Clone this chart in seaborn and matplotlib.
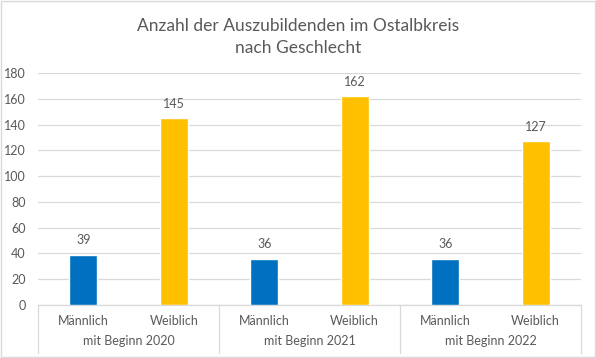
import numpy as np
import seaborn as sns
import matplotlib.pyplot as plt
import pandas as pd

# Daten
jahre = ['mit Beginn 2020', 'mit Beginn 2021', 'mit Beginn 2022']
geschlecht = ['Männlich', 'Weiblich']
maennlich = [39, 36, 36]
weiblich = [145, 162, 127]

zeilen = []
for i, j in enumerate(jahre):
    zeilen.append({'pos': 2 * i, 'Jahr': j, 'Geschlecht': 'Männlich', 'Anzahl': maennlich[i]})
    zeilen.append({'pos': 2 * i + 1, 'Jahr': j, 'Geschlecht': 'Weiblich', 'Anzahl': weiblich[i]})
df = pd.DataFrame(zeilen)

sns.set_style('white')
plt.rcParams['font.family'] = ['Lato', 'DejaVu Sans']
grau = '#595959'

fig = plt.figure(figsize=(5.96, 3.58), dpi=100)
ax = fig.add_axes([0.0638, 0.148, 0.911, 0.648])

ax = sns.barplot(data=df, x='pos', y='Anzahl', hue='Geschlecht', dodge=False,
                 palette={'Männlich': '#0070C0', 'Weiblich': '#FFC000'},
                 width=0.31, saturation=1, legend=False, ax=ax, zorder=3)

# Datenbeschriftung
for c in ax.containers:
    ax.bar_label(c, padding=6, fontsize=9, color=grau)

ax.set_ylim(0, 180)
ax.set_yticks(range(0, 181, 20))
ax.set_xlim(-0.5, 5.5)
ax.yaxis.grid(True, color='#D9D9D9', linewidth=0.9, zorder=0)
ax.tick_params(axis='y', length=0, labelsize=9, labelcolor=grau, pad=9)
ax.tick_params(axis='x', length=0, labelsize=9, labelcolor=grau, pad=7)
ax.set_xticks(range(6))
ax.set_xticklabels(geschlecht * 3)
ax.set_xlabel('')
ax.set_ylabel('')
for s in ['top', 'right', 'left']:
    ax.spines[s].set_visible(False)
ax.spines['bottom'].set_color('#D9D9D9')
ax.spines['bottom'].set_linewidth(0.9)

# Gruppenbeschriftung und Trennlinien
trans = ax.get_xaxis_transform()
for i, j in enumerate(jahre):
    ax.text(2 * i + 0.5, -0.155, j, transform=trans, ha='center', va='center',
            fontsize=9, color=grau)
for xs in [-0.5, 1.5, 3.5, 5.5]:
    ax.plot([xs, xs], [0, -0.205], transform=trans, color='#D9D9D9',
            linewidth=0.9, clip_on=False)

fig.suptitle('Anzahl der Auszubildenden im Ostalbkreis\nnach Geschlecht',
             y=0.95, fontsize=12.5, color=grau, linespacing=1.45)

# Rahmen
fig.patches.append(plt.Rectangle((0.002, 0.003), 0.996, 0.994, transform=fig.transFigure,
                                 fill=False, edgecolor='#D9D9D9', linewidth=1))

plt.savefig('out.png', dpi=100)
